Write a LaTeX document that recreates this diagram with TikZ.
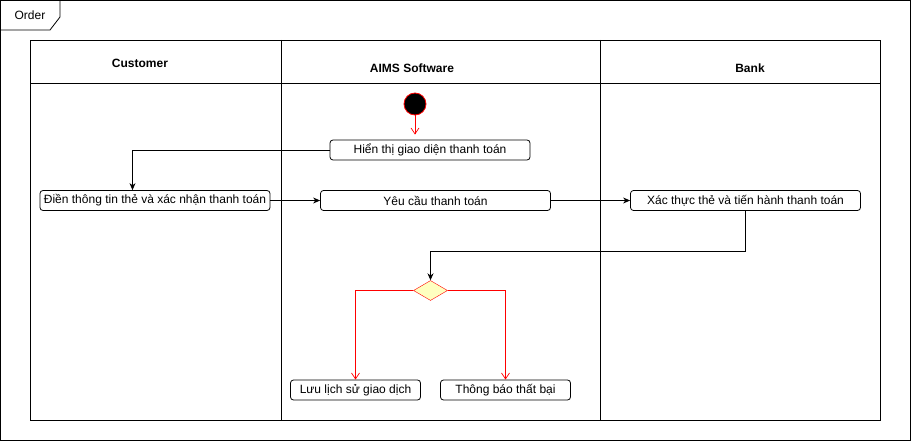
\documentclass[tikz,border=0pt]{standalone}
\usepackage{fontspec}
\setmainfont{Liberation Sans}
\usetikzlibrary{shapes.geometric,arrows.meta,positioning}

\definecolor{decisionfill}{HTML}{FFFFC0}

\begin{document}
\begin{tikzpicture}[x=1pt,y=-1pt,
        every node/.style={font=\fontsize{12}{14}\selectfont},
        lanetitle/.style={font=\bfseries\fontsize{12}{14}\selectfont},
        action/.style={draw,rounded corners=3pt,minimum height=20pt,inner sep=0pt,line width=0.8pt},
        flow/.style={-{Stealth[length=7pt,width=6pt]},line width=0.8pt},
        branch/.style={draw=red,-{Straight Barb[length=6pt,width=8pt]},line width=0.7pt}]
        \useasboundingbox (0,0) rectangle (911,441);
        % Draw outer frame with its tab
        \draw[line width=0.8pt] (0.5,0.5) rectangle (910,440);
        \draw[line width=0.8pt] (0.5,30) -- (50,30) -- (60,17) -- (60,0.5);
        \node (frametitle) at (30,15) {Order};
        % Draw pool and swimlanes
        \draw[line width=0.8pt] (30,40) rectangle (880,420);
        \draw[line width=0.8pt] (30,83) -- (880,83);
        \draw[line width=0.8pt] (281,40) -- (281,420);
        \draw[line width=0.8pt] (600,40) -- (600,420);
        \node[lanetitle] (customer) at (140,63) {Customer};
        \node[lanetitle] (aims) at (412,68) {AIMS Software};
        \node[lanetitle] (bank) at (750,68) {Bank};
        % Draw activities
        \node[circle,fill=black,draw=red,line width=0.8pt,minimum size=22pt,inner sep=0pt] (start) at (415,104) {};
        \node[action,minimum width=200pt] (show) at (430,150) {Hiển thị giao diện thanh toán};
        \node[action,minimum width=230pt] (fill) at (155,200.5) {Điền thông tin thẻ và xác nhận thanh toán};
        \node[action,minimum width=230pt] (request) at (435.5,200.5) {Yêu cầu thanh toán};
        \node[action,minimum width=230pt] (verify) at (745.5,200.5) {Xác thực thẻ và tiến hành thanh toán};
        \node[diamond,draw=red,fill=decisionfill,minimum width=34pt,minimum height=20pt,inner sep=0pt] (decision) at (430.5,290.5) {};
        \node[action,minimum width=130pt] (save) at (355.5,390) {Lưu lịch sử giao dịch};
        \node[action,minimum width=130pt] (fail) at (505.5,390) {Thông báo thất bại};
        % Draw flows
        \draw[branch,shorten >=5pt] (start.south) -- (start.south |- show.north);
        \draw[flow] (show.west) -| ([xshift=-22.5pt]fill.north);
        \draw[flow] (fill.east) -- (request.west);
        \draw[flow] (request.east) -- (verify.west);
        \draw[flow] (verify.south) -- ++(0,40) -| (decision.north);
        \draw[branch] (decision.west) -| (save.north);
        \draw[branch] (decision.east) -| (fail.north);
\end{tikzpicture}
\end{document}
